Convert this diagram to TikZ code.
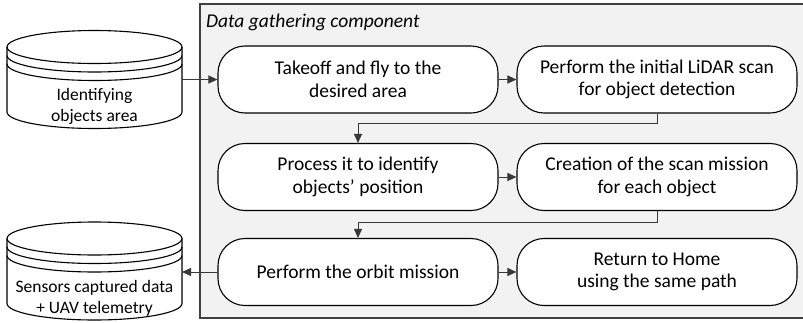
\documentclass[tikz,border=0pt]{standalone}
\usepackage{fontspec}
\setmainfont{Carlito}
\usetikzlibrary{arrows.meta,calc}

\tikzset{
  stepbox/.style={draw=black, line width=1.1pt, fill=white, rounded corners=27pt,
    minimum width=280pt, minimum height=67pt, inner sep=0pt, align=center,
    font=\fontsize{19.5}{22.5}\selectfont},
  storetext/.style={align=center, inner sep=0pt, font=\fontsize{17.5}{21}\selectfont},
  flow/.style={draw=black!78, line width=1pt, -{Triangle[length=9pt,width=8pt]}},
  frame/.style={draw=black!75, line width=1.2pt, fill=black!5},
  storeline/.style={draw=black, line width=1.1pt},
}

% data store drawn as a stacked cylinder; #1 = y of the top ellipse centre
\newcommand\drawdatastore[1]{%
  \filldraw[storeline, fill=white]
    (7,#1) -- (7,#1+65) arc[start angle=180, end angle=360, x radius=87.5pt, y radius=16.5pt]
    -- (182,#1) arc[start angle=0, end angle=180, x radius=87.5pt, y radius=16.5pt] -- cycle;
  \foreach \dy in {0,8.5,17}
    \draw[storeline] (7,#1+\dy) arc[start angle=180, end angle=360, x radius=87.5pt, y radius=16.5pt];
}

\begin{document}
\begin{tikzpicture}[x=1pt, y=-1pt]
  \useasboundingbox (0,0) rectangle (803,322);

  % component frame (continues past the right edge)
  \draw[frame] (200,4) rectangle (812,318);
  \node[anchor=west, inner sep=0pt, font=\fontsize{19.5}{22}\selectfont\itshape]
    (title) at (206,22) {Data gathering component};

  % process steps
  \node[stepbox] (takeoff) at (358,79.5) {Takeoff and fly to the\\desired area};
  \node[stepbox] (lidar)   at (657,79.5) {Perform the initial LiDAR scan\\for object detection};
  \node[stepbox] (process) at (358,177)  {Process it to identify\\objects’ position};
  \node[stepbox] (mission) at (657,177)  {Creation of the scan mission\\for each object};
  \node[stepbox] (orbit)   at (358,272)  {Perform the orbit mission};
  \node[stepbox] (home)    at (657,272)  {Return to Home\\using the same path};

  % data stores
  \drawdatastore{47}
  \node[storetext] (area) at (94.5,106.5) {Identifying\\objects area};
  \coordinate (areaout) at (182,79.5);

  \drawdatastore{238.5}
  \node[storetext] (sensors) at (94.5,298.5) {Sensors captured data\\+ UAV telemetry};
  \coordinate (sensorsin) at (182,272);

  % connectors
  \draw[flow] (areaout) -- (takeoff.west);
  \draw[flow] (takeoff) -- (lidar);
  \draw[flow] (lidar.south) -- ++(0,10) -| (process.north);
  \draw[flow] (process) -- (mission);
  \draw[flow] (mission.south) -- ++(0,11) -| (orbit.north);
  \draw[flow] (orbit) -- (home);
  \draw[flow] (orbit.west) -- (sensorsin);
\end{tikzpicture}
\end{document}
